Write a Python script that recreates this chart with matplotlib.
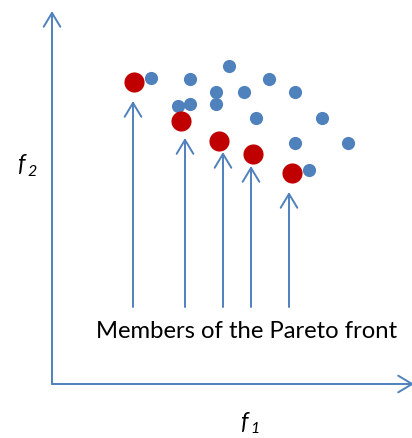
import matplotlib
matplotlib.use('Agg')
import matplotlib.pyplot as plt

blue = '#4F81BD'
red = '#C00000'

# objective values of the dominated solutions
dom_f1 = [99, 138, 126, 138, 177, 217, 164, 192, 243, 164, 204, 270, 243, 296, 257]
dom_f2 = [306, 305, 278, 280, 318, 305, 292, 292, 292, 280, 266, 266, 241, 241, 214]

# non-dominated solutions (Pareto front)
front_f1 = [82, 129, 167, 201, 240]
front_f2 = [302, 263, 243, 230, 211]

# pointer arrows from the caption up to the front members
ptr_f1 = [81, 133, 171, 199, 237]
ptr_top = [283, 246, 232, 218, 192]
ptr_base = 77

caption = 'Members of the Pareto front'

fig = plt.figure(figsize=(4.12, 4.38), dpi=100)
ax = fig.add_axes([0, 0, 1, 1])
ax.set_xlim(-52, 360)
ax.set_ylim(-54, 384)
ax.axis('off')

arrow_kw = dict(arrowstyle='->,head_length=0.4,head_width=0.24', color=blue,
                lw=1.4, shrinkA=0, shrinkB=0, mutation_scale=25)

# f1 / f2 axes
ax.annotate('', xy=(0, 373), xytext=(0, 0), arrowprops=arrow_kw)
ax.annotate('', xy=(362, 0), xytext=(0, 0), arrowprops=arrow_kw,
            annotation_clip=False)

for x, top in zip(ptr_f1, ptr_top):
    ax.annotate('', xy=(x, top), xytext=(x, ptr_base), arrowprops=arrow_kw)

ax.scatter(dom_f1, dom_f2, s=90, color=blue, linewidths=0, zorder=3)
ax.scatter(front_f1, front_f2, s=210, color=red, linewidths=0, zorder=4)

ax.text(195, 52, caption, fontsize=17.2, family='Lato',
        ha='center', va='center')

# axis names
ax.text(-31, 219, 'f', fontsize=17, family='Lato', style='italic',
        ha='center', va='center')
ax.text(-20, 212, '2', fontsize=11.5, family='Lato', style='italic',
        ha='center', va='center')
ax.text(192, -38, 'f', fontsize=17, family='Lato', style='italic',
        ha='center', va='center')
ax.text(203, -45, '1', fontsize=11.5, family='Lato', style='italic',
        ha='center', va='center')

fig.savefig('out.png', dpi=100)
